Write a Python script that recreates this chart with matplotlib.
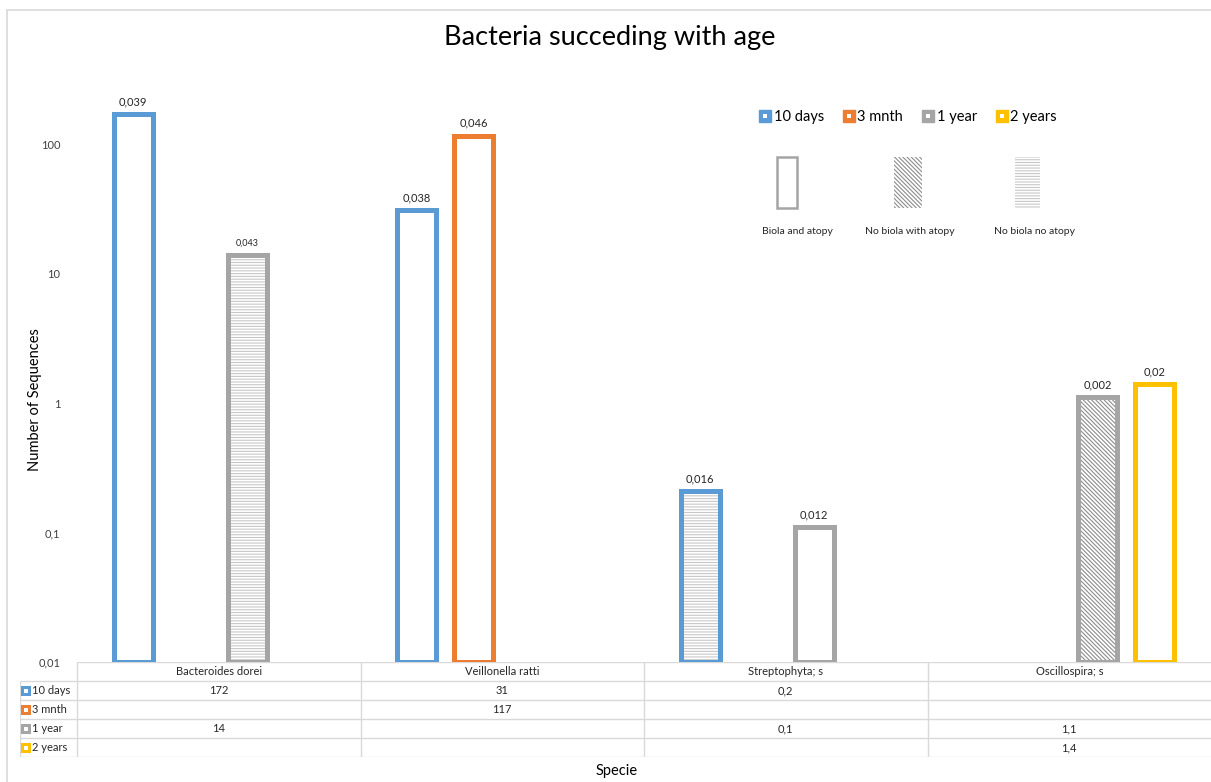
import matplotlib.pyplot as plt
import numpy as np
from matplotlib.lines import Line2D
from matplotlib.patches import Rectangle
from matplotlib.legend_handler import HandlerTuple
from matplotlib.ticker import FixedLocator, FuncFormatter

plt.rcParams["font.family"] = ["Lato", "DejaVu Sans"]
plt.rcParams["hatch.linewidth"] = 0.8

species = ["Bacteroides dorei", "Veillonella ratti", "Streptophyta; s", "Oscillospira; s"]
series = ["10 days", "3 mnth", "1 year", "2 years"]
colors = ["#5B9BD5", "#ED7D31", "#A5A5A5", "#FFC000"]

# number of sequences per species (nan = not present)
days_10 = [172, 31, 0.2, np.nan]
mnth_3 = [np.nan, 117, np.nan, np.nan]
year_1 = [14, np.nan, 0.1, 1.1]
years_2 = [np.nan, np.nan, np.nan, 1.4]
values = [days_10, mnth_3, year_1, years_2]

# labels printed above each bar
labels_10d = ["0,039", "0,038", "0,016", ""]
labels_3m = ["", "0,046", "", ""]
labels_1y = ["0,043", "", "0,012", "0,002"]
labels_2y = ["", "", "", "0,02"]
bar_labels = [labels_10d, labels_3m, labels_1y, labels_2y]

# group per bar: "" biola and atopy, "diag" no biola with atopy, "horiz" no biola no atopy
group_10d = ["", "", "horiz", ""]
group_3m = ["", "", "", ""]
group_1y = ["horiz", "", "", "diag"]
group_2y = ["", "", "", ""]
groups = [group_10d, group_3m, group_1y, group_2y]

group_names = ["Biola and atopy", "No biola with atopy", "No biola no atopy"]
hatch_style = {"diag": ("\\" * 8, "#8c8c8c"), "horiz": ("------", "#c8c8c8")}

yticks = [0.01, 0.1, 1, 10, 100]

W, H = 1211, 782
fig = plt.figure(figsize=(W / 100, H / 100), dpi=100)

# chart border
fig.patches.append(Rectangle((7 / W, -0.01), 1.1, 1 - 10 / H + 0.01, transform=fig.transFigure,
                             fill=False, edgecolor="#d9d9d9", linewidth=1.2))

ax_l, ax_r, ax_b, ax_t = 77, 1211, 662, 15
ax = fig.add_axes([ax_l / W, 1 - ax_b / H, (ax_r - ax_l) / W, (ax_b - ax_t) / H])

x = np.arange(len(species))
step, width = 0.201, 0.138
offsets = (np.arange(4) - 1.5) * step

for i in range(4):
    for j in range(4):
        v = values[i][j]
        if np.isnan(v):
            continue
        xpos = x[j] + offsets[i]
        g = groups[i][j]
        if g:
            hatch, hc = hatch_style[g]
            ax.bar(xpos, v, width, bottom=0.01, color="white", edgecolor=hc, hatch=hatch, linewidth=0)
        ax.bar(xpos, v, width, bottom=0.01, color="none", edgecolor=colors[i], linewidth=3.6)
        fs = 6.5 if bar_labels[i][j] == "0,043" else 8
        ax.annotate(bar_labels[i][j], (xpos, v + 0.01), xytext=(0, 5), textcoords="offset points",
                    ha="center", va="bottom", fontsize=fs, color="#262626")

ax.set_yscale("log")
ax.set_ylim(0.01, 1000)
ax.set_xlim(-0.5, 3.5)
ax.yaxis.set_major_locator(FixedLocator(yticks))
ax.yaxis.set_minor_locator(FixedLocator([]))
ax.yaxis.set_major_formatter(FuncFormatter(lambda v, p: f"{v:g}".replace(".", ",")))
ax.tick_params(axis="y", length=0, labelsize=8, labelcolor="#404040", pad=12)
ax.set_xticks([])
for s in ax.spines.values():
    s.set_visible(False)
ax.patch.set_alpha(0)

fig.text(610 / W, 1 - 38 / H, "Bacteria succeding with age", ha="center", va="center",
         fontsize=19.5, color="#000000")
fig.text(35 / W, 1 - 400 / H, "Number of Sequences", rotation=90, ha="center", va="center",
         fontsize=10.5, color="#000000")
fig.text(617 / W, 1 - 771 / H, "Specie", ha="center", va="center", fontsize=10.5, color="#000000")

# series legend
handles = [(Line2D([], [], marker="s", ls="", color=c, markersize=8),
            Line2D([], [], marker="s", ls="", color="white", markeredgewidth=0, markersize=3.5))
           for c in colors]
fig.legend(handles, series, loc="center", bbox_to_anchor=(908 / W, 1 - 117 / H), ncol=4,
           frameon=False, fontsize=10.5, handler_map={tuple: HandlerTuple(ndivide=1)},
           handlelength=0.8, handletextpad=0.2, columnspacing=1.3)

# group legend
lx = [787, 908, 1027]
lw = [20, 28, 25]
for k, name in enumerate(group_names):
    rx = (lx[k] - lw[k] / 2) / W
    ry = 1 - 208 / H
    rh = 51 / H
    if k == 0:
        fig.patches.append(Rectangle((rx, ry), lw[k] / W, rh, transform=fig.transFigure,
                                     facecolor="white", edgecolor="#a5a5a5", linewidth=1.8))
    else:
        hatch, hc = hatch_style["diag" if k == 1 else "horiz"]
        fig.patches.append(Rectangle((rx, ry), lw[k] / W, rh, transform=fig.transFigure,
                                     facecolor="white", edgecolor=hc, hatch=hatch, linewidth=0))
    fig.text([797, 910, 1034][k] / W, 1 - 231 / H, name, ha="center", va="center",
             fontsize=7.5, color="#262626")

# data table under the axis
tab_l, tab_b, tab_t = 20, 757, 662
tax = fig.add_axes([tab_l / W, 1 - tab_b / H, (ax_r - tab_l) / W, (tab_b - tab_t) / H])
row_w = (ax_l - tab_l) / ((ax_r - ax_l) / 4)
tax.set_xlim(-0.5 - row_w, 3.5)
tax.set_ylim(5, 0)
tax.axis("off")
grid = "#d9d9d9"
tax.hlines(0, -0.5, 3.5, color=grid, lw=1)
tax.hlines(np.arange(1, 6), -0.5 - row_w, 3.5, color=grid, lw=1)
tax.vlines(-0.5, 0, 5, color=grid, lw=1)
tax.vlines(np.arange(0.5, 3.5), 0, 5, color=grid, lw=1)
tax.vlines(-0.5 - row_w, 1, 5, color=grid, lw=1)

for j, name in enumerate(species):
    tax.text(x[j], 0.5, name, ha="center", va="center", fontsize=8, color="#262626")
for i, name in enumerate(series):
    mx = -0.5 - row_w + 0.022
    tax.plot(mx, i + 1.5, marker="s", color=colors[i], markersize=7.5, markeredgewidth=0)
    tax.plot(mx, i + 1.5, marker="s", color="white", markersize=2.5, markeredgewidth=0)
    tax.text(mx + 0.02, i + 1.5, name, ha="left", va="center", fontsize=8, color="#262626")
    for j in range(4):
        v = values[i][j]
        if not np.isnan(v):
            tax.text(x[j], i + 1.5, f"{v:g}".replace(".", ","), ha="center", va="center",
                     fontsize=8, color="#262626")

fig.savefig("out.png", dpi=100)
